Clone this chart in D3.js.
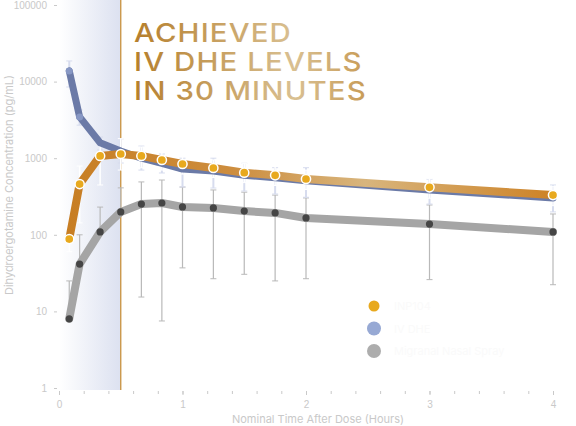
<!DOCTYPE html>
<html>
<head>
<meta charset="utf-8">
<script src="https://cdn.jsdelivr.net/npm/d3@7"></script>
<style>
  body { margin: 0; background: #fff; }
  svg { display: block; font-family: 'Inter', 'Open Sans', sans-serif; }
</style>
</head>
<body>
<svg id="chart" width="576" height="426"></svg>
<script>
// data
let times = [0.083, 0.167, 0.333, 0.5, 0.667, 0.833, 1, 1.25, 1.5, 1.75, 2, 3, 4]

let inpMean = [88, 460, 1070, 1135, 1070, 948, 840, 745, 647, 598, 535, 417, 330]
let inpHi = [120, 790, 1730, 1800, 1400, 1200, 1050, 950, 850, 780, 700, 540, 430]
let inpLo = [60, 143, 447, 700, 750, 700, 620, 560, 480, 440, 390, 300, 240]

let ivMean = [13800, 3460, 1590, 1240, 1000, 857, 720, 680, 600, 556, 508, 385, 303]
let ivHi = [18600, 4260, 1890, 1790, 1440, 1135, 1000, 1000, 857, 752, 752, 531, 447]
let ivLo = [8500, 2700, 1280, 865, 700, 641, 421, 408, 373, 341, 309, 252, 199]

let nasalMean = [8, 41.5, 109, 199, 252, 260, 231, 224, 204, 193, 166, 138, 109]
let nasalHi = [25, 100, 230, 410, 490, 519, 420, 385, 360, 330, 303, 245, 187]
let nasalLo = [8, 41.5, 109, 199, 15.4, 7.5, 37, 26.7, 30.5, 25, 26.7, 26, 22.3]

let yTicks = [1, 10, 100, 1000, 10000, 100000]
let xTicks = [0, 1, 2, 3, 4]
let legendLabels = ['INP104', 'IV DHE', 'Migranal Nasal Spray']
let titleLines = ['ACHIEVED', 'IV DHE LEVELS', 'IN 30 MINUTES']

let orange = '#e8a91e'
let blueLine = '#6b7aa7'
let bluePoint = '#8797c4'
let grayLine = '#a5a5a5'
let grayPoint = '#454545'
let tickColor = '#c9c9c9'

let svg = d3.select('#chart')
let defs = svg.append('defs')

let x = d3.scaleLinear().domain([0, 4]).range([59, 553])
let y = d3.scaleLog().domain([1, 100000]).range([388, 5])

// shaded first 30 minutes
let shade = defs.append('linearGradient').attr('id', 'shade')
shade.append('stop').attr('offset', '0%').attr('stop-color', '#ffffff')
shade.append('stop').attr('offset', '100%').attr('stop-color', '#dce1f0')

svg.append('rect')
    .attr('x', x(0))
    .attr('y', 0)
    .attr('width', x(0.5) - x(0))
    .attr('height', 390)
    .attr('fill', 'url(#shade)')

svg.append('line')
    .attr('x1', x(0.5)).attr('x2', x(0.5))
    .attr('y1', 0).attr('y2', 390)
    .attr('stroke', '#c8913e')
    .attr('stroke-width', 1.3)

// axes
let yAxis = svg.append('g')
    .attr('transform', 'translate(57,0)')
    .call(d3.axisLeft(y).tickValues(yTicks).tickFormat(d3.format('d')).tickSize(3).tickPadding(7))
yAxis.select('.domain').remove()
yAxis.selectAll('line').attr('stroke', tickColor)
yAxis.selectAll('text').attr('fill', tickColor).style('font-size', '10px')

let xMinor = svg.append('g')
    .attr('transform', 'translate(0,391)')
    .call(d3.axisBottom(x).tickValues(d3.range(0, 4.01, 0.2)).tickFormat('').tickSize(3))
xMinor.select('.domain').remove()
xMinor.selectAll('line').attr('stroke', tickColor)

let xAxis = svg.append('g')
    .attr('transform', 'translate(0,391)')
    .call(d3.axisBottom(x).tickValues(xTicks).tickFormat(d3.format('d')).tickSize(4).tickPadding(6))
xAxis.select('.domain').remove()
xAxis.selectAll('line').attr('stroke', tickColor)
xAxis.selectAll('text').attr('fill', tickColor).style('font-size', '10px')

svg.append('text')
    .attr('x', 318)
    .attr('y', 423)
    .attr('text-anchor', 'middle')
    .attr('fill', tickColor)
    .style('font-size', '11px')
    .text('Nominal Time After Dose (Hours)')

svg.append('text')
    .attr('transform', 'translate(13,' + 185 + ') rotate(-90)')
    .attr('text-anchor', 'middle')
    .attr('fill', tickColor)
    .style('font-size', '11px')
    .text('Dihydroergotamine Concentration (pg/mL)')

// error bars
function errorBars(hi, lo, color, cap, width) {
    let g = svg.append('g')
    times.forEach((t, i) => {
        let cx = x(t)
        g.append('line')
            .attr('x1', cx).attr('x2', cx)
            .attr('y1', y(hi[i])).attr('y2', y(lo[i]))
            .attr('stroke', color).attr('stroke-width', width)
        g.append('line')
            .attr('x1', cx - cap).attr('x2', cx + cap)
            .attr('y1', y(hi[i])).attr('y2', y(hi[i]))
            .attr('stroke', color).attr('stroke-width', 1)
        if (lo[i] < hi[i]) {
            g.append('line')
                .attr('x1', cx - cap).attr('x2', cx + cap)
                .attr('y1', y(lo[i])).attr('y2', y(lo[i]))
                .attr('stroke', color).attr('stroke-width', 1)
        }
    })
}

errorBars(nasalHi, nasalLo, '#b9b9b9', 3, 1.2)
errorBars(ivHi, ivLo, '#d7dcee', 3, 2)
errorBars(inpHi, inpLo, '#ffffff', 3, 1.5)

// line gradient for INP104
let lineGrad = defs.append('linearGradient')
    .attr('id', 'inpGrad')
    .attr('gradientUnits', 'userSpaceOnUse')
    .attr('x1', x(0)).attr('x2', x(4))
    .attr('y1', 0).attr('y2', 0)
lineGrad.append('stop').attr('offset', '0%').attr('stop-color', '#c77d22')
lineGrad.append('stop').attr('offset', '35%').attr('stop-color', '#cd8d3e')
lineGrad.append('stop').attr('offset', '62%').attr('stop-color', '#d8b57d')
lineGrad.append('stop').attr('offset', '100%').attr('stop-color', '#cd8226')

let line = d3.line().curve(d3.curveLinear)

function drawSeries(values, stroke, width) {
    svg.append('path')
        .datum(times.map((t, i) => [x(t), y(values[i])]))
        .attr('d', line)
        .attr('fill', 'none')
        .attr('stroke', stroke)
        .attr('stroke-width', width)
        .attr('stroke-linejoin', 'round')
        .attr('stroke-linecap', 'round')
}

drawSeries(nasalMean, grayLine, 8)
drawSeries(ivMean, blueLine, 7)
drawSeries(inpMean, 'url(#inpGrad)', 8)

// points
svg.append('g').selectAll('circle')
    .data(times)
    .join('circle')
    .attr('cx', d => x(d))
    .attr('cy', (d, i) => y(nasalMean[i]))
    .attr('r', 3.6)
    .attr('fill', grayPoint)

svg.append('g').selectAll('circle')
    .data(times.slice(0, 2))
    .join('circle')
    .attr('cx', d => x(d))
    .attr('cy', (d, i) => y(ivMean[i]))
    .attr('r', 3.5)
    .attr('fill', bluePoint)

svg.append('g').selectAll('circle')
    .data(times)
    .join('circle')
    .attr('cx', d => x(d))
    .attr('cy', (d, i) => y(inpMean[i]))
    .attr('r', 4.6)
    .attr('fill', orange)
    .attr('stroke', '#ffffff')
    .attr('stroke-width', 1.5)

// legend (labels are nearly white in the original)
let legendColors = [orange, '#97a9d4', '#adadad']
let legendR = [5.5, 7, 7]
let legend = svg.append('g').attr('transform', 'translate(374,306)')
legendLabels.forEach((label, i) => {
    legend.append('circle')
        .attr('cx', 0).attr('cy', i * 22.5)
        .attr('r', legendR[i])
        .attr('fill', legendColors[i])
    legend.append('text')
        .attr('x', 20).attr('y', i * 22.5 + 4)
        .attr('fill', '#fafafa')
        .style('font-size', '11px')
        .text(label)
})

// title
let titleGrad = defs.append('linearGradient')
    .attr('id', 'titleGrad')
    .attr('gradientUnits', 'userSpaceOnUse')
    .attr('x1', 0).attr('x2', 236)
    .attr('y1', 0).attr('y2', 0)
titleGrad.append('stop').attr('offset', '0%').attr('stop-color', '#b57e2c')
titleGrad.append('stop').attr('offset', '60%').attr('stop-color', '#d9c092')
titleGrad.append('stop').attr('offset', '100%').attr('stop-color', '#c08a3a')

let titleBase = [42, 71, 100]
let title = svg.append('g')
titleLines.forEach((txt, i) => {
    title.append('text')
        .attr('x', 0)
        .attr('y', titleBase[i])
        .attr('fill', 'url(#titleGrad)')
        .style('font-size', '26px')
        .style('font-weight', 500)
        .style('letter-spacing', '1px')
        .text(txt)
})
// widen the glyphs so the last line spans the same width as the original
let last = title.selectAll('text').nodes()[2]
let sx = 233 / last.getComputedTextLength()
title.attr('transform', 'translate(134,0) scale(' + sx + ',1)')
</script>
</body>
</html>
